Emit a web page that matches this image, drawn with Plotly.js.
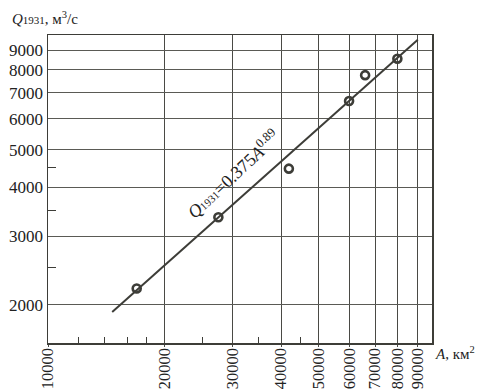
<!DOCTYPE html>
<html>
<head>
<meta charset="utf-8">
<script src="https://cdn.plot.ly/plotly-3.0.1.min.js"></script>
<style>html,body{margin:0;padding:0;background:#fff;}#chart{width:479px;height:389px;}</style>
</head>
<body>
<div id="chart"></div>
<script>
// Observed points (A, km², vs Q1931, m³/s)
const areaObs = [16950, 27550, 41900, 59950, 65950, 79900];
const flowObs = [2205, 3355, 4470, 6660, 7760, 8550];
// Fitted line Q1931 = 0.375 A^0.89, endpoints
const areaFit = [14650, 90200];
const flowFit = [1918, 9560];
// Tick values and labels
const xTicks = [10000, 20000, 30000, 40000, 50000, 60000, 70000, 80000, 90000];
const xTickText = ['10000', '20000', '30000', '40000', '50000', '60000', '70000', '80000', '90000'];
const xMinor = [12000, 14000, 16000, 18000, 25000, 35000, 45000];
const yTicks = [2000, 3000, 4000, 5000, 6000, 7000, 8000, 9000];
const yTickText = ['2000', '3000', '4000', '5000', '6000', '7000', '8000', '9000'];
const yMinor = [2500, 3500, 4500];

const ink = '#3d3d38';
const serif = 'Liberation Serif, Times New Roman, serif';

const traces = [
  {x: areaFit, y: flowFit, type: 'scatter', mode: 'lines',
   line: {color: ink, width: 2}, hoverinfo: 'skip', showlegend: false},
  {x: areaObs, y: flowObs, type: 'scatter', mode: 'markers',
   marker: {symbol: 'circle-open', size: 8, color: ink, line: {color: ink, width: 2.6}},
   showlegend: false}
];

const layout = {
  width: 479, height: 389,
  margin: {l: 48, r: 47, t: 35, b: 46, pad: 0},
  paper_bgcolor: '#fff', plot_bgcolor: '#fff',
  font: {family: serif, size: 17, color: '#222'},
  showlegend: false,
  xaxis: {
    type: 'log', range: [4, 4.992],
    tickmode: 'array', tickvals: xTicks, ticktext: xTickText, tickangle: -90,
    showgrid: true, gridcolor: '#4a4a45', gridwidth: 1,
    showline: true, linecolor: ink, linewidth: 1.5, mirror: true,
    ticks: 'outside', ticklen: 2, tickcolor: '#4a4a45',
    ticklabelstandoff: -5,
    tickfont: {family: serif, size: 16.5, color: '#222'},
    minor: {tickvals: xMinor, ticks: 'inside', ticklen: 6, tickcolor: ink, showgrid: false},
    zeroline: false, fixedrange: true
  },
  yaxis: {
    type: 'log', range: [3.2036, 3.9927],
    tickmode: 'array', tickvals: yTicks, ticktext: yTickText,
    showgrid: true, gridcolor: '#5a5a55', gridwidth: 1,
    showline: true, linecolor: ink, linewidth: 1.5, mirror: true,
    ticks: '',
    tickfont: {family: serif, size: 17, color: '#222'},
    minor: {tickvals: yMinor, ticks: 'inside', ticklen: 8, tickcolor: ink, showgrid: false},
    zeroline: false, fixedrange: true
  },
  annotations: [
    {xref: 'paper', yref: 'paper', x: -0.099, y: 1.055, xanchor: 'left', yanchor: 'middle',
     showarrow: false, font: {family: serif, size: 15, color: '#222'},
     text: "<i>Q</i><span style='font-size:11px'>1931</span>, м<sup>3</sup>/с"},
    {xref: 'paper', yref: 'paper', x: 1.003, y: -0.032, xanchor: 'left', yanchor: 'middle',
     showarrow: false, font: {family: serif, size: 15, color: '#222'},
     text: "<i>A</i>, км<sup>2</sup>"},
    {xref: 'paper', yref: 'paper', x: 0.484, y: 0.549, xanchor: 'center', yanchor: 'middle',
     showarrow: false, textangle: -43, font: {family: serif, size: 18, color: '#222'},
     text: "<i>Q</i><span style='font-size:11px'>1931</span>=0.375<i>A</i><sup>0.89</sup>"}
  ]
};

Plotly.newPlot('chart', traces, layout, {staticPlot: true, displayModeBar: false});
</script>
</body>
</html>
